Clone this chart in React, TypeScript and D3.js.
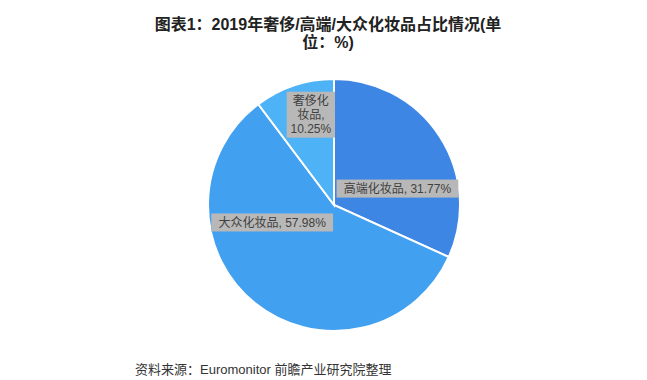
import React from "react";
import * as d3 from "d3";

const categories = ["高端化妆品", "大众化妆品", "奢侈化妆品"];
const values = [31.77, 57.98, 10.25];
const colors = ["#3d86e4", "#42a0f0", "#4db3f6"];
const titleLines = ["图表1：2019年奢侈/高端/大众化妆品占比情况(单", "位：%)"];
const sourceText = "资料来源：Euromonitor 前瞻产业研究院整理";

// label layout: position along slice (fraction of its angle), radius fraction, wrap width
const labelAngleFrac = [0.66, 0.67, 0.61];
const labelRadiusFrac = [0.52, 0.51, 0.74];
const labelWrap = [200, 200, 42];

const W = 647;
const H = 380;
const CX = 334;
const CY = 205;
const R = 126;
const FS = 12;

function charW(c: string) {
  return /[\u3000-\u9fff\uff00-\uffef]/.test(c) ? FS : FS * 0.56;
}

function wrap(text: string, maxW: number): string[] {
  const lines: string[] = [];
  let cur = "";
  let w = 0;
  const tokens = text.match(/[\u3000-\u9fff\uff00-\uffef],?|\s?[^\s\u3000-\u9fff]+/g) || [text];
  for (const t of tokens) {
    const tw = Array.from(t).reduce((s, c) => s + charW(c), 0);
    if (cur && w + tw > maxW) {
      lines.push(cur);
      cur = t.trim();
      w = Array.from(cur).reduce((s, c) => s + charW(c), 0);
    } else {
      cur += t;
      w += tw;
    }
  }
  if (cur) lines.push(cur);
  return lines;
}

export default function App() {
  const pie = d3.pie<number>().sort(null).value((d) => d);
  const arcs = pie(values);
  const arc = d3.arc<d3.PieArcDatum<number>>().innerRadius(0).outerRadius(R);

  return (
    <svg
      width={W}
      height={H}
      style={{ position: "absolute", left: 0, top: 0, background: "#fff" }}
      fontFamily="'Noto Sans CJK SC', 'Liberation Sans', sans-serif"
    >
      {titleLines.map((t, i) => (
        <text
          key={i}
          x={328}
          y={30 + i * 18}
          textAnchor="middle"
          fontSize={16}
          fontWeight="bold"
          fill="#222"
          fontFamily="'Liberation Sans', 'Noto Sans CJK SC', sans-serif"
        >
          {t}
        </text>
      ))}
      <g transform={`translate(${CX},${CY})`}>
        {arcs.map((a, i) => (
          <path key={i} d={arc(a) || ""} fill={colors[i]} stroke="#fff" strokeWidth={2} />
        ))}
        {arcs.map((a, i) => {
          const ang = a.startAngle + labelAngleFrac[i] * (a.endAngle - a.startAngle);
          const rr = labelRadiusFrac[i] * R;
          const x = Math.sin(ang) * rr;
          const y = -Math.cos(ang) * rr;
          const lines = wrap(`${categories[i]}, ${values[i].toFixed(2)}%`, labelWrap[i]);
          const lh = 14;
          const widths = lines.map((l) => Array.from(l).reduce((s, c) => s + charW(c), 0));
          const bw = Math.max(...widths) + 8;
          const bh = lines.length * lh + 4;
          return (
            <g key={"l" + i} transform={`translate(${x},${y})`}>
              <rect x={-bw / 2} y={-bh / 2} width={bw} height={bh} fill="#b8b8b8" />
              {lines.map((l, j) => (
                <text
                  key={j}
                  x={0}
                  y={-bh / 2 + 2 + lh * j + lh / 2}
                  dy="0.35em"
                  textAnchor="middle"
                  fontSize={FS}
                  fill="#404040"
                  fontFamily="'Liberation Sans', 'Noto Sans CJK SC', sans-serif"
                >
                  {l}
                </text>
              ))}
            </g>
          );
        })}
      </g>
      <text
        x={135}
        y={374}
        fontSize={13}
        fill="#333"
        fontFamily="'Liberation Sans', 'Noto Sans CJK SC', sans-serif"
      >
        {sourceText}
      </text>
    </svg>
  );
}
